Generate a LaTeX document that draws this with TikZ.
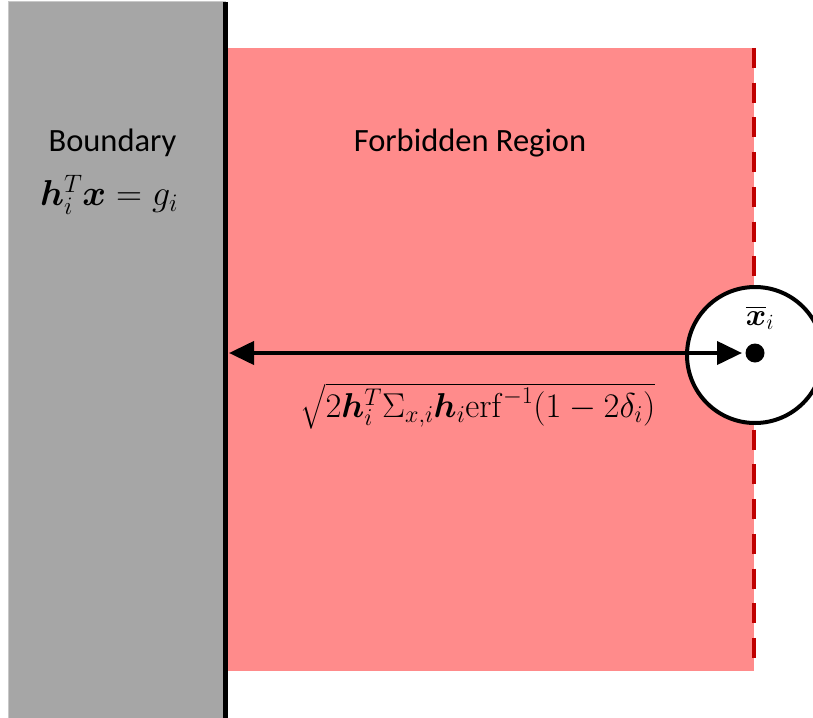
\RequirePackage{fix-cm}
\documentclass[tikz,border=0pt]{standalone}
\usepackage{amsmath}
\usepackage{bm}
\usepackage[no-math]{fontspec}
\setmainfont{Carlito}
\usetikzlibrary{arrows.meta}

\definecolor{wallgray}{HTML}{A6A6A6}
\definecolor{walledge}{HTML}{C8C8C8}
\definecolor{zonepink}{HTML}{FF8B8B}
\definecolor{edgered}{HTML}{C00000}

\tikzset{
  labeltext/.style={font=\fontsize{32.5}{38}\selectfont, inner sep=0pt},
  mathtext/.style={font=\fontsize{34.5}{40}\selectfont, inner sep=0pt},
  distarrow/.style={line width=4pt, {Triangle[length=25pt,width=23pt]}-{Triangle[length=25pt,width=23pt]}},
  spot/.style={circle, fill=black, minimum size=19pt, inner sep=0pt},
  ring/.style={circle, draw=black, fill=white, line width=4pt, minimum size=136pt, inner sep=0pt},
}

\begin{document}
\begin{tikzpicture}[x=1pt, y=-1pt]
  \useasboundingbox (0,0) rectangle (813,717);
  \clip (0,0) rectangle (813,717);

  % boundary wall
  \fill[wallgray, draw=walledge, line width=1pt] (8,2) rectangle (225,720);
  % forbidden zone
  \fill[zonepink] (228,48) rectangle (754,671);
  % dashed outer edge of the zone
  \draw[edgered, line width=4.5pt, dash pattern=on 20pt off 14.7pt] (754,48) -- (754,671);
  % boundary line
  \draw[black, line width=5pt] (225.5,2) -- (225.5,720);

  % uncertainty ring around the mean
  \node[ring] (ring) at (755,355) {};
  \node[spot] (mean) at (755,353) {};
  \node[mathtext, font=\fontsize{31}{36}\selectfont] (meanlbl) at (760,318) {$\overline{\bm{x}}_i$};

  % distance arrow
  \coordinate (wallpt) at (229,353);
  \coordinate (meanpt) at (742,353);
  \draw[distarrow] (wallpt) -- (meanpt);

  % labels
  \node[labeltext] (bnd) at (112.5,143) {Boundary};
  \node[mathtext, font=\fontsize{36}{42}\selectfont] (bndeq) at (109,195) {$\bm{h}_i^T\bm{x} = g_i$};
  \node[labeltext] (forb) at (470,143) {Forbidden Region};
  \node[mathtext] (dist) at (478,406)
    {$\sqrt{2\bm{h}_i^T\Sigma_{x,i}\bm{h}_i\mathrm{erf}^{-1}(1-2\delta_i)}$};
\end{tikzpicture}
\end{document}
